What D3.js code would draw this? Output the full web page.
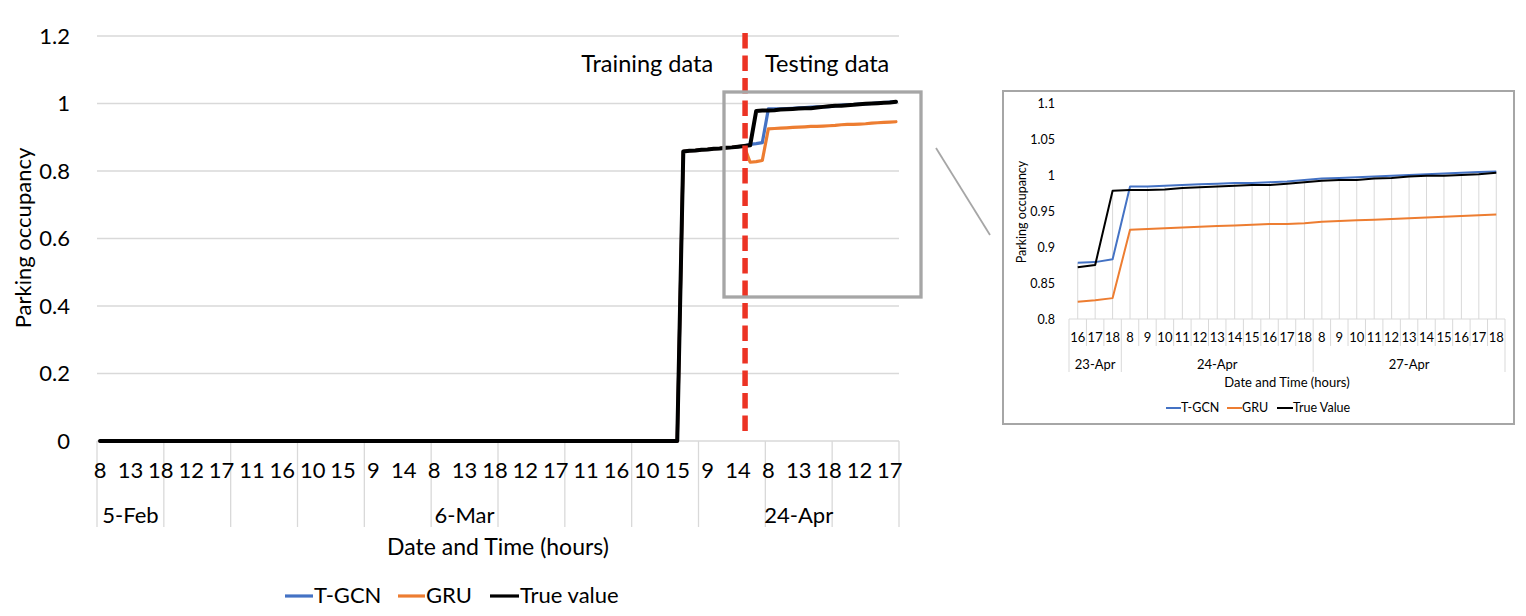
<!DOCTYPE html>
<html><head><meta charset="utf-8">
<script src="https://cdn.jsdelivr.net/npm/d3@7"></script>
<style>
body{margin:0;background:#fff}
svg{display:block}
text{font-family:Lato,"Open Sans",sans-serif;fill:#000}
</style>
</head><body>
<svg id="c" width="1526" height="616"></svg>
<script>
// ---------------- DATA ----------------
// Main chart: 12 days x 11 hourly categories (8..18)
const hours = [8, 9, 10, 11, 12, 13, 14, 15, 16, 17, 18];
const mainDates = ["5-Feb", "", "", "", "", "6-Mar", "", "", "", "23-Apr", "24-Apr", "27-Apr"];
const labelInterval = 5;
const mainYTicks = [0, 0.2, 0.4, 0.6, 0.8, 1, 1.2];

// Training part (indices 0..106), shared by all three series
const trainValues = [
  0,0,0,0,0,0,0,0,0,0,0,0,0,0,0,0,0,0,0,0,0,0,0,0,
  0,0,0,0,0,0,0,0,0,0,0,0,0,0,0,0,0,0,0,0,0,0,0,0,
  0,0,0,0,0,0,0,0,0,0,0,0,0,0,0,0,0,0,0,0,0,0,0,0,
  0,0,0,0,0,0,0,0,0,0,0,0,0,0,0,0,0,0,0,0,0,0,0,0,
  0.858, 0.860, 0.861, 0.863, 0.864, 0.866, 0.867, 0.869, 0.870, 0.872, 0.874
];
// Testing part (indices 107..131)
const testTrueMain = [0.876, 0.978, 0.979, 0.979, 0.980, 0.982, 0.983, 0.984, 0.985, 0.986, 0.986, 0.988,
  0.990, 0.992, 0.993, 0.993, 0.995, 0.996, 0.998, 0.999, 1.000, 1.001, 1.002, 1.003, 1.005];
const testTGCNMain = [0.879, 0.881, 0.884, 0.984, 0.984, 0.984, 0.985, 0.986, 0.987, 0.988, 0.989, 0.990,
  0.990, 0.991, 0.993, 0.995, 0.996, 0.997, 0.998, 0.999, 1.000, 1.002, 1.003, 1.004, 1.005];
const testGRUMain = [0.826, 0.828, 0.831, 0.925, 0.926, 0.927, 0.928, 0.929, 0.930, 0.931, 0.932, 0.932,
  0.933, 0.934, 0.935, 0.937, 0.938, 0.938, 0.939, 0.940, 0.942, 0.943, 0.944, 0.945, 0.946];

// Inset (zoomed testing period)
const insetDates = ["23-Apr", "24-Apr", "27-Apr"];
const insetHours = [[16, 17, 18], [8, 9, 10, 11, 12, 13, 14, 15, 16, 17, 18], [8, 9, 10, 11, 12, 13, 14, 15, 16, 17, 18]];
const insetYTicks = [0.8, 0.85, 0.9, 0.95, 1, 1.05, 1.1];
const insetTGCN = [0.878, 0.879, 0.883, 0.984, 0.984, 0.985, 0.986, 0.987, 0.988, 0.989, 0.989, 0.990, 0.991,
  0.993, 0.995, 0.996, 0.997, 0.998, 0.999, 1.000, 1.001, 1.002, 1.003, 1.004, 1.005];
const insetGRU = [0.824, 0.826, 0.829, 0.924, 0.925, 0.926, 0.927, 0.928, 0.929, 0.930, 0.931, 0.932, 0.932,
  0.933, 0.935, 0.936, 0.937, 0.938, 0.939, 0.940, 0.941, 0.942, 0.943, 0.944, 0.945];
const insetTrue = [0.872, 0.875, 0.978, 0.979, 0.979, 0.980, 0.982, 0.983, 0.984, 0.985, 0.986, 0.986, 0.988,
  0.990, 0.992, 0.993, 0.993, 0.995, 0.996, 0.998, 0.999, 0.999, 1.000, 1.001, 1.003];

const seriesNames = ["T-GCN", "GRU", "True value"];
const insetSeriesNames = ["T-GCN", "GRU", "True Value"];
const seriesColors = ["#4472c4", "#ed7d31", "#000000"];

// ---------------- DRAW ----------------
const svg = d3.select("#c");
svg.append("rect").attr("width", 1526).attr("height", 616).attr("fill", "#fff");
const fmt = v => String(+v.toFixed(2));
const grid = "#d9d9d9";

// ===== MAIN CHART =====
const mainCats = mainDates.flatMap((d, di) => hours.map(h => ({ day: di, date: d, hour: h })));
const mainTrue = trainValues.concat(testTrueMain);
const mainTGCN = trainValues.concat(testTGCNMain);
const mainGRU = trainValues.concat(testGRUMain);

const xM = d3.scaleBand().domain(d3.range(mainCats.length)).range([97, 899]);
const cxM = i => xM(i) + xM.bandwidth() / 2;
const yM = d3.scaleLinear().domain([0, 1.2]).range([441, 36]);
const gM = svg.append("g");

// gridlines
gM.append("g").selectAll("line").data(mainYTicks).join("line")
  .attr("x1", 97).attr("x2", 899).attr("y1", d => yM(d)).attr("y2", d => yM(d))
  .attr("stroke", grid).attr("stroke-width", 1.3);

// y axis labels
const yAx = gM.append("g").attr("transform", "translate(97,0)")
  .call(d3.axisLeft(yM).tickValues(mainYTicks).tickSize(0).tickPadding(27).tickFormat(fmt));
yAx.select(".domain").remove();
yAx.selectAll("text").style("font-family", "Lato").style("font-size", "22px").attr("fill", "#000");

// day boundaries in label area
const nDays = mainDates.length, perDay = hours.length;
const dayEdges = d3.range(nDays + 1).map(d => d < nDays ? xM(d * perDay) : xM.range()[1]);
gM.append("g").selectAll("line").data(dayEdges).join("line")
  .attr("x1", d => d).attr("x2", d => d).attr("y1", 441).attr("y2", 527)
  .attr("stroke", grid).attr("stroke-width", 1.3);

// hour labels
gM.append("g").selectAll("text").data(mainCats.map((c, i) => ({ c, i })).filter(d => d.i % labelInterval === 0))
  .join("text").attr("x", d => cxM(d.i)).attr("y", 470).attr("dy", "0.35em")
  .attr("text-anchor", "middle").style("font-size", "22px").text(d => d.c.hour);

// date labels
gM.append("g").selectAll("text").data(mainDates.map((d, di) => ({ d, di })).filter(o => o.di % labelInterval === 0 && o.d))
  .join("text").attr("x", o => (dayEdges[o.di] + dayEdges[o.di + 1]) / 2).attr("y", 515).attr("dy", "0.35em")
  .attr("text-anchor", "middle").style("font-size", "22px").text(o => o.d);

// axis titles
gM.append("text").attr("x", 498).attr("y", 547).attr("dy", "0.35em").attr("text-anchor", "middle")
  .style("font-size", "23px").text("Date and Time (hours)");
gM.append("text").attr("transform", "translate(23,238) rotate(-90)").attr("dy", "0.35em").attr("text-anchor", "middle")
  .style("font-size", "22px").text("Parking occupancy");

// lines
const lineM = d3.line().x((d, i) => cxM(i)).y(d => yM(d));
[mainTGCN, mainGRU, mainTrue].forEach((s, k) => {
  gM.append("path").datum(s).attr("d", lineM).attr("fill", "none")
    .attr("stroke", seriesColors[k]).attr("stroke-width", k === 2 ? 4 : 3.2)
    .attr("stroke-linejoin", "round").attr("stroke-linecap", "round");
});

// training / testing split
const splitX = cxM(trainValues.length - 1) + 1;
gM.append("line").attr("x1", splitX).attr("x2", splitX).attr("y1", 33).attr("y2", 431)
  .attr("stroke", "#ec3324").attr("stroke-width", 5.5).attr("stroke-dasharray", "15.5,7");
gM.append("text").attr("x", splitX - 32).attr("y", 64).attr("dy", "0.35em").attr("text-anchor", "end")
  .style("font-size", "23.5px").text("Training data");
gM.append("text").attr("x", splitX + 20).attr("y", 64).attr("dy", "0.35em").attr("text-anchor", "start")
  .style("font-size", "23.5px").text("Testing data");

// zoom box and connector
gM.append("rect").attr("x", 724).attr("y", 92).attr("width", 197).attr("height", 205)
  .attr("fill", "none").attr("stroke", "#a6a6a6").attr("stroke-width", 3.3);
gM.append("line").attr("x1", 936).attr("y1", 148).attr("x2", 990).attr("y2", 235)
  .attr("stroke", "#a6a6a6").attr("stroke-width", 1.8);

// legend
const legM = [{ x: 285, tx: 314 }, { x: 398, tx: 426 }, { x: 490, tx: 520 }];
legM.forEach((p, k) => {
  gM.append("line").attr("x1", p.x).attr("x2", p.tx - 1).attr("y1", 596).attr("y2", 596)
    .attr("stroke", seriesColors[k]).attr("stroke-width", 3.2);
  gM.append("text").attr("x", p.tx).attr("y", 595).attr("dy", "0.35em").style("font-size", "22px").text(seriesNames[k]);
});

// ===== INSET CHART =====
const gI = svg.append("g");
gI.append("rect").attr("x", 1003).attr("y", 91).attr("width", 511).attr("height", 333)
  .attr("fill", "#fff").attr("stroke", "#a6a6a6").attr("stroke-width", 2);

const insetCats = insetDates.flatMap((d, di) => insetHours[di].map(h => ({ day: di, date: d, hour: h })));
const xI = d3.scaleBand().domain(d3.range(insetCats.length)).range([1069, 1505]);
const cxI = i => xI(i) + xI.bandwidth() / 2;
const yI = d3.scaleLinear().domain([0.8, 1.1]).range([319, 103]);

// drop lines
const topVals = insetCats.map((c, i) => Math.max(insetTGCN[i], insetGRU[i], insetTrue[i]));
gI.append("g").selectAll("line").data(topVals).join("line")
  .attr("x1", (d, i) => cxI(i)).attr("x2", (d, i) => cxI(i)).attr("y1", yI(0.8)).attr("y2", d => yI(d))
  .attr("stroke", grid).attr("stroke-width", 1);

// axis line
gI.append("line").attr("x1", 1069).attr("x2", 1505).attr("y1", yI(0.8)).attr("y2", yI(0.8))
  .attr("stroke", grid).attr("stroke-width", 1);

// y labels
const yAxI = gI.append("g").attr("transform", "translate(1069,0)")
  .call(d3.axisLeft(yI).tickValues(insetYTicks).tickSize(0).tickPadding(14).tickFormat(fmt));
yAxI.select(".domain").remove();
yAxI.selectAll("text").style("font-family", "Lato").style("font-size", "12.5px").attr("fill", "#000");

// category tick separators
const catEdges = d3.range(insetCats.length + 1).map(i => i < insetCats.length ? xI(i) : xI.range()[1]);
const groupStarts = new Set([0]);
let acc = 0; insetHours.forEach(h => { acc += h.length; groupStarts.add(acc); });
gI.append("g").selectAll("line").data(catEdges).join("line")
  .attr("x1", d => d).attr("x2", d => d).attr("y1", yI(0.8))
  .attr("y2", (d, i) => groupStarts.has(i) ? 372 : 346)
  .attr("stroke", grid).attr("stroke-width", 1);

// hour labels
gI.append("g").selectAll("text").data(insetCats).join("text")
  .attr("x", (d, i) => cxI(i)).attr("y", 337).attr("dy", "0.35em").attr("text-anchor", "middle")
  .style("font-size", "13px").text(d => d.hour);

// date labels
let start = 0;
insetDates.forEach((d, di) => {
  const end = start + insetHours[di].length;
  gI.append("text").attr("x", (catEdges[start] + catEdges[end]) / 2).attr("y", 364).attr("dy", "0.35em")
    .attr("text-anchor", "middle").style("font-size", "13px").text(d);
  start = end;
});

// titles
gI.append("text").attr("x", 1287).attr("y", 382).attr("dy", "0.35em").attr("text-anchor", "middle")
  .style("font-size", "13px").text("Date and Time (hours)");
gI.append("text").attr("transform", "translate(1022,212) rotate(-90)").attr("dy", "0.35em").attr("text-anchor", "middle")
  .style("font-size", "12.5px").text("Parking occupancy");

// lines
const lineI = d3.line().x((d, i) => cxI(i)).y(d => yI(d));
[insetTGCN, insetGRU, insetTrue].forEach((s, k) => {
  gI.append("path").datum(s).attr("d", lineI).attr("fill", "none")
    .attr("stroke", seriesColors[k]).attr("stroke-width", 2)
    .attr("stroke-linejoin", "round");
});

// legend
const legI = [{ x: 1166, tx: 1181 }, { x: 1227, tx: 1242 }, { x: 1277, tx: 1293 }];
legI.forEach((p, k) => {
  gI.append("line").attr("x1", p.x).attr("x2", p.tx).attr("y1", 408).attr("y2", 408)
    .attr("stroke", seriesColors[k]).attr("stroke-width", 2);
  gI.append("text").attr("x", p.tx).attr("y", 408).attr("dy", "0.35em").style("font-size", "12.5px").text(insetSeriesNames[k]);
});
</script>
</body></html>
